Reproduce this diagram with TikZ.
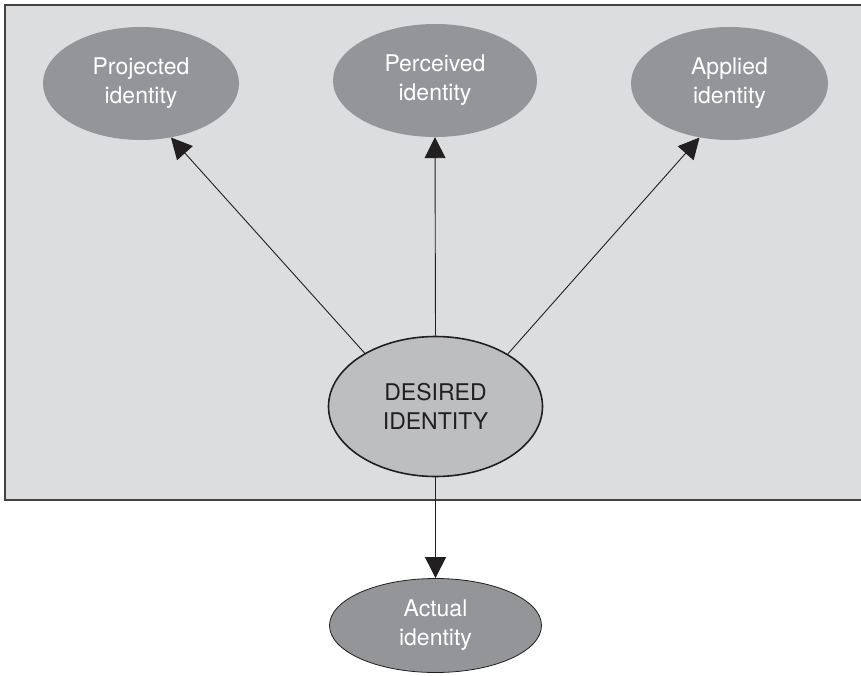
\documentclass[tikz,border=0pt]{standalone}
\usepackage{fontspec}
\setmainfont{TeX Gyre Heros}
\usetikzlibrary{shapes.geometric,arrows.meta}
\definecolor{bgpanel}{HTML}{DCDDDE}
\definecolor{darkfill}{HTML}{939598}
\definecolor{midfill}{HTML}{BCBEC0}
\definecolor{inkdark}{HTML}{231F20}
\tikzset{
  lbl/.style={font=\fontsize{23}{29}\selectfont, align=center},
  outer/.style={ellipse, inner sep=0pt, fill=darkfill, text=white, lbl},
  core/.style={ellipse, inner sep=0pt, fill=midfill, draw=inkdark, line width=1.6pt, text=inkdark, lbl},
  link/.style={draw=inkdark, line width=0.9pt, -{Triangle[length=21pt,width=21pt]}}
}
\begin{document}
\begin{tikzpicture}[x=1pt,y=-1pt]
\useasboundingbox (0,0) rectangle (861,675);
\fill[white] (0,0) rectangle (861,675);
\begin{scope}
\clip (0,0) rectangle (861,675);
\draw[fill=bgpanel, draw=inkdark!85, line width=1.1pt] (5,5) rectangle (880,500);
\end{scope}
\node[outer, minimum width=196pt, minimum height=113pt] (P) at (141,83.5) {Projected\\identity};
\node[outer, minimum width=204pt, minimum height=113pt] (R) at (435,80.5) {Perceived\\identity};
\node[outer, minimum width=197pt, minimum height=113pt] (A) at (729.5,83.5) {Applied\\identity};
\node[core, minimum width=214pt, minimum height=140pt] (D) at (435.5,406.5) {DESIRED\\IDENTITY};
\node[outer, draw=inkdark, line width=0.8pt, minimum width=212pt, minimum height=94pt] (C) at (435.5,625.5) {Actual\\identity};
\draw[link] (D.143.6) -- (P.-61.5);
\draw[link] (D.90) -- (R.-90);
\draw[link] (D.36.4) -- (A.-119.7);
\draw[link] (D.-90) -- (C.90);
\end{tikzpicture}
\end{document}
